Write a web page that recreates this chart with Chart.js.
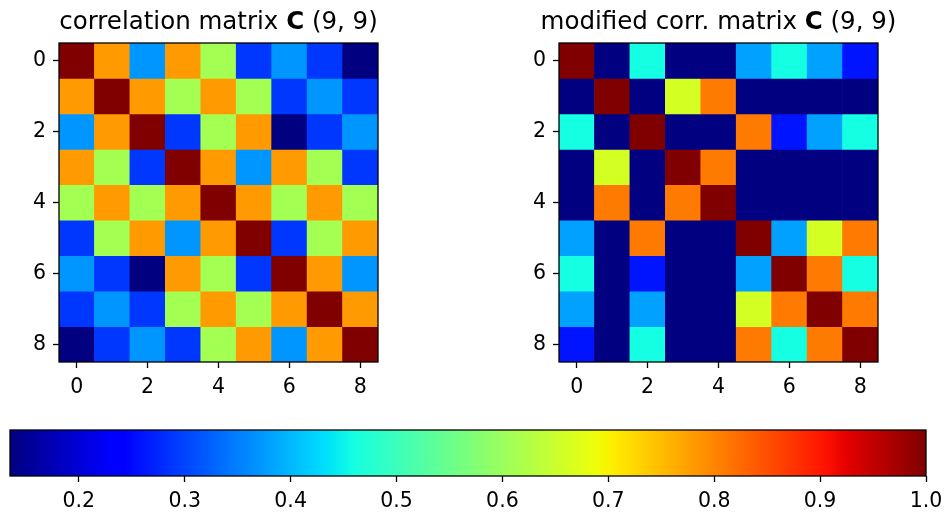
<!DOCTYPE html>
<html>
<head>
<meta charset="utf-8">
<script src="https://cdn.jsdelivr.net/npm/chart.js@4"></script>
<style>
  body { margin: 0; background: #fff; }
  #wrap { position: relative; width: 944px; height: 513px; }
  canvas { position: absolute; }
</style>
</head>
<body>
<div id="wrap">
  <canvas id="leftChart" width="472" height="410" style="left:0;top:0"></canvas>
  <canvas id="rightChart" width="472" height="410" style="left:472px;top:0"></canvas>
  <canvas id="barChart" width="944" height="103" style="left:0;top:410px"></canvas>
</div>
<script>
// matrix values
const rowIndex = [0, 1, 2, 3, 4, 5, 6, 7, 8];
const axisTicks = [0, 2, 4, 6, 8];
const colorbarTicks = [0.2, 0.3, 0.4, 0.5, 0.6, 0.7, 0.8, 0.9, 1.0];
const vMin = 0.135;
const vMax = 1.0;

const corrMatrix = [
  [1.00, 0.78, 0.37, 0.78, 0.61, 0.29, 0.37, 0.29, 0.135],
  [0.78, 1.00, 0.78, 0.61, 0.78, 0.61, 0.29, 0.37, 0.29],
  [0.37, 0.78, 1.00, 0.29, 0.61, 0.78, 0.135, 0.29, 0.37],
  [0.78, 0.61, 0.29, 1.00, 0.78, 0.37, 0.78, 0.61, 0.29],
  [0.61, 0.78, 0.61, 0.78, 1.00, 0.78, 0.61, 0.78, 0.61],
  [0.29, 0.61, 0.78, 0.37, 0.78, 1.00, 0.29, 0.61, 0.78],
  [0.37, 0.29, 0.135, 0.78, 0.61, 0.29, 1.00, 0.78, 0.37],
  [0.29, 0.37, 0.29, 0.61, 0.78, 0.61, 0.78, 1.00, 0.78],
  [0.135, 0.29, 0.37, 0.29, 0.61, 0.78, 0.37, 0.78, 1.00]
];

const modMatrix = [
  [1.00, 0.0, 0.46, 0.0, 0.0, 0.38, 0.46, 0.38, 0.26],
  [0.0, 1.00, 0.0, 0.66, 0.81, 0.0, 0.0, 0.0, 0.0],
  [0.46, 0.0, 1.00, 0.0, 0.0, 0.81, 0.26, 0.38, 0.46],
  [0.0, 0.66, 0.0, 1.00, 0.81, 0.0, 0.0, 0.0, 0.0],
  [0.0, 0.81, 0.0, 0.81, 1.00, 0.0, 0.0, 0.0, 0.0],
  [0.38, 0.0, 0.81, 0.0, 0.0, 1.00, 0.38, 0.66, 0.81],
  [0.46, 0.0, 0.26, 0.0, 0.0, 0.38, 1.00, 0.81, 0.46],
  [0.38, 0.0, 0.38, 0.0, 0.0, 0.66, 0.81, 1.00, 0.81],
  [0.26, 0.0, 0.46, 0.0, 0.0, 0.81, 0.46, 0.81, 1.00]
];

Chart.defaults.font.family = "'DejaVu Sans', sans-serif";
Chart.defaults.color = '#000';

const tickFont = 20.5;
const titleFont = 24.5;

// matplotlib jet colormap
function interp(points, t) {
  for (let i = 1; i < points.length; i++) {
    if (t <= points[i][0]) {
      const a = points[i - 1], b = points[i];
      return a[1] + (b[1] - a[1]) * (t - a[0]) / (b[0] - a[0]);
    }
  }
  return points[points.length - 1][1];
}
const jetR = [[0, 0], [0.35, 0], [0.66, 1], [0.89, 1], [1, 0.5]];
const jetG = [[0, 0], [0.125, 0], [0.375, 1], [0.64, 1], [0.91, 0], [1, 0]];
const jetB = [[0, 0.5], [0.11, 1], [0.34, 1], [0.65, 0], [1, 0]];
function jet(v) {
  let t = (v - vMin) / (vMax - vMin);
  t = Math.max(0, Math.min(1, t));
  const r = Math.round(interp(jetR, t) * 255);
  const g = Math.round(interp(jetG, t) * 255);
  const b = Math.round(interp(jetB, t) * 255);
  return 'rgb(' + r + ',' + g + ',' + b + ')';
}

// title with a bold C in the middle
function titlePlugin(before, bold, after) {
  return {
    id: 'mixedTitle',
    afterDraw(chart) {
      const ctx = chart.ctx;
      const area = chart.chartArea;
      const normal = titleFont + "px 'DejaVu Sans'";
      const heavy = "bold " + titleFont + "px 'DejaVu Sans'";
      ctx.save();
      ctx.font = normal;
      const w1 = ctx.measureText(before).width;
      const w3 = ctx.measureText(after).width;
      ctx.font = heavy;
      const w2 = ctx.measureText(bold).width;
      let x = (area.left + area.right) / 2 - (w1 + w2 + w3) / 2;
      const y = 29;
      ctx.fillStyle = '#000';
      ctx.textBaseline = 'alphabetic';
      ctx.font = normal;
      ctx.fillText(before, x, y);
      x += w1;
      ctx.font = heavy;
      ctx.fillText(bold, x, y);
      x += w2;
      ctx.font = normal;
      ctx.fillText(after, x, y);
      ctx.restore();
    }
  };
}

const framePlugin = {
  id: 'frame',
  afterDraw(chart) {
    const a = chart.chartArea;
    const ctx = chart.ctx;
    ctx.save();
    ctx.strokeStyle = '#000';
    ctx.lineWidth = 1.3;
    ctx.strokeRect(a.left, a.top, a.right - a.left, a.bottom - a.top);
    ctx.restore();
  }
};

function tickAxis(extra) {
  return Object.assign({
    type: 'linear',
    min: -0.5,
    max: 8.5,
    offset: false,
    afterBuildTicks: s => { s.ticks = axisTicks.map(v => ({ value: v })); },
    grid: { offset: false, drawOnChartArea: false, tickLength: 6, tickColor: '#000', tickWidth: 1.3 },
    border: { display: false },
    ticks: { font: { size: tickFont }, padding: 7, maxRotation: 0 }
  }, extra);
}

function makeHeatmap(canvasId, matrix, yWidth, padRight, title) {
  const datasets = rowIndex.map(r => ({
    data: rowIndex.map(c => ({ x: c, y: [r - 0.5, r + 0.5] })),
    backgroundColor: matrix[r].map(v => jet(v)),
    borderWidth: 0,
    grouped: false,
    barPercentage: 1,
    categoryPercentage: 1
  }));
  new Chart(document.getElementById(canvasId), {
    type: 'bar',
    data: { datasets: datasets },
    options: {
      responsive: false,
      animation: false,
      layout: { padding: { left: 0, top: 43, right: padRight, bottom: 0 } },
      plugins: { legend: { display: false }, tooltip: { enabled: false } },
      scales: {
        x: tickAxis({ afterFit: s => { s.height = 48; s.paddingLeft = 0; s.paddingRight = 0; } }),
        y: tickAxis({ reverse: true, afterFit: s => { s.width = yWidth; s.paddingTop = 0; s.paddingBottom = 0; } })
      }
    },
    plugins: [framePlugin, titlePlugin(title[0], title[1], title[2])]
  });
}

makeHeatmap('leftChart', corrMatrix, 59, 94, ['correlation matrix ', 'C', ' (9, 9)']);
makeHeatmap('rightChart', modMatrix, 87, 66, ['modified corr. matrix ', 'C', ' (9, 9)']);

// colorbar
const gradientPlugin = {
  id: 'gradient',
  beforeDatasetsDraw(chart) {
    const a = chart.chartArea;
    const sx = chart.scales.x;
    const ctx = chart.ctx;
    const x0 = sx.getPixelForValue(vMin);
    const x1 = sx.getPixelForValue(vMax);
    const grad = ctx.createLinearGradient(x0, 0, x1, 0);
    const steps = 128;
    for (let i = 0; i <= steps; i++) {
      const v = vMin + (vMax - vMin) * i / steps;
      grad.addColorStop(i / steps, jet(v));
    }
    ctx.save();
    ctx.fillStyle = grad;
    ctx.fillRect(x0, a.top, x1 - x0, a.bottom - a.top);
    ctx.restore();
  }
};

new Chart(document.getElementById('barChart'), {
  type: 'bar',
  data: { datasets: [{ data: [] }] },
  options: {
    responsive: false,
    animation: false,
    layout: { padding: { left: 10, top: 20, right: 18, bottom: 0 } },
    plugins: { legend: { display: false }, tooltip: { enabled: false } },
    scales: {
      x: {
        type: 'linear',
        min: vMin,
        max: vMax,
        offset: false,
        afterBuildTicks: s => { s.ticks = colorbarTicks.map(v => ({ value: v })); },
        afterFit: s => { s.height = 37; s.paddingLeft = 0; s.paddingRight = 0; },
        grid: { offset: false, drawOnChartArea: false, tickLength: 6, tickColor: '#000', tickWidth: 1.3 },
        border: { display: false },
        ticks: { font: { size: tickFont }, padding: 7, maxRotation: 0, callback: v => v.toFixed(1) }
      },
      y: { display: false, min: 0, max: 1 }
    }
  },
  plugins: [gradientPlugin, framePlugin]
});
</script>
</body>
</html>
